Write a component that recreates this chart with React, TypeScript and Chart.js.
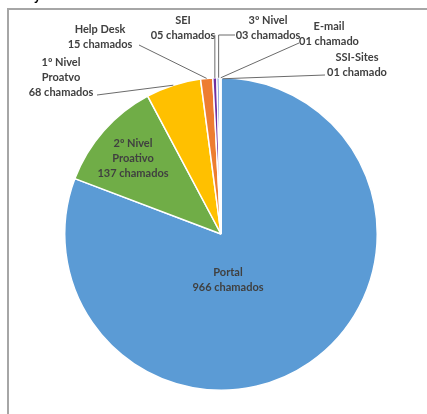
import React, { useEffect, useRef } from "react";
import { Chart, registerables } from "chart.js";

Chart.register(...registerables);

const categories = [
  "Portal",
  "2º Nivel Proativo",
  "1º Nivel Proatvo",
  "Help Desk",
  "SEI",
  "3º Nivel",
  "E-mail",
  "SSI-Sites",
];
const values = [966, 137, 68, 15, 5, 3, 1, 1];
const labelLines = [
  ["Portal", "966 chamados"],
  ["2º Nivel", "Proativo", "137 chamados"],
  ["1º Nivel", "Proatvo", "68 chamados"],
  ["Help Desk", "15 chamados"],
  ["SEI", "05 chamados"],
  ["3º Nivel", "03 chamados"],
  ["E-mail", "01 chamado"],
  ["SSI-Sites", "01 chamado"],
];
const colors = ["#5B9BD5", "#70AD47", "#FFC000", "#ED7D31", "#7030A0", "#4472C4", "#264478", "#A5A5A5"];

const FONT = "bold 11px Lato, 'Open Sans', sans-serif";
const TEXT = "#404040";
const LINE = "#6b6b6b";

const framePlugin = {
  id: "frame",
  beforeDraw(chart: any) {
    const ctx = chart.ctx;
    ctx.save();
    ctx.fillStyle = "#ffffff";
    ctx.fillRect(0, 0, chart.width, chart.height);
    ctx.strokeStyle = "#a6a6a6";
    ctx.lineWidth = 2;
    ctx.beginPath();
    ctx.moveTo(427, 9);
    ctx.lineTo(8, 9);
    ctx.lineTo(8, 414);
    ctx.stroke();
    ctx.fillStyle = "#000";
    ctx.font = "bold 12px 'Liberation Sans', sans-serif";
    ctx.textBaseline = "alphabetic";
    ctx.fillText("y", 34, 0);
    ctx.restore();
  },
};

const labelPlugin = {
  id: "pieLabels",
  afterDatasetsDraw(chart: any) {
    const ctx = chart.ctx;
    const arcs = chart.getDatasetMeta(0).data;
    const cx = arcs[0].x;
    const cy = arcs[0].y;
    const r = arcs[0].outerRadius;
    const mid = (i: number) => {
      const a = (arcs[i].startAngle + arcs[i].endAngle) / 2;
      return { x: cx + Math.cos(a) * r, y: cy + Math.sin(a) * r, a };
    };
    ctx.save();
    ctx.font = FONT;
    ctx.fillStyle = TEXT;
    ctx.textAlign = "center";
    ctx.textBaseline = "middle";
    const block = (i: number, x: number, y: number) => {
      labelLines[i].forEach((t, k) => ctx.fillText(t, x, y + k * 15));
    };
    // inside labels
    block(0, cx + 7, cy + 38);
    block(1, cx - 88, cy - 91);
    // outside labels
    block(2, 61, 62);
    block(3, 100, 29);
    block(4, 183, 20);
    block(5, 268, 20);
    block(6, 329, 26);
    block(7, 357, 57);

    ctx.strokeStyle = LINE;
    ctx.lineWidth = 1;
    const seg = (pts: number[][]) => {
      ctx.beginPath();
      ctx.moveTo(pts[0][0], pts[0][1]);
      for (let k = 1; k < pts.length; k++) ctx.lineTo(pts[k][0], pts[k][1]);
      ctx.stroke();
    };
    const p2 = mid(2);
    seg([[97, 95], [p2.x, p2.y]]);
    const p3 = mid(3);
    seg([[139, 45], [p3.x, p3.y]]);
    const p4 = mid(4);
    seg([[p4.x, 35], [p4.x, p4.y]]);
    const p5 = mid(5);
    seg([[235, 35], [p5.x + 0.5, 35], [p5.x + 0.5, p5.y]]);
    const p6 = mid(6);
    seg([[299, 43], [p6.x + 1, p6.y]]);
    const p7 = mid(7);
    seg([[325, 75], [p7.x + 2, p7.y + 1]]);
    ctx.restore();
  },
};

export default function App() {
  const ref = useRef<HTMLCanvasElement>(null);
  useEffect(() => {
    if (!ref.current) return;
    const chart = new Chart(ref.current, {
      type: "pie",
      data: {
        labels: categories,
        datasets: [
          {
            data: values,
            backgroundColor: colors,
            borderColor: "#ffffff",
            borderWidth: 1.5,
          },
        ],
      },
      options: {
        responsive: false,
        animation: false,
        layout: { padding: { top: 77, bottom: 23, left: 64, right: 49 } },
        plugins: {
          legend: { display: false },
          tooltip: { enabled: false },
          title: { display: false },
        },
      },
      plugins: [framePlugin, labelPlugin],
    });
    return () => chart.destroy();
  }, []);
  return (
    <div style={{ position: "fixed", left: 0, top: 0, width: 427, height: 414, background: "#fff" }}>
      <canvas ref={ref} width={427} height={414} style={{ display: "block" }} />
    </div>
  );
}
